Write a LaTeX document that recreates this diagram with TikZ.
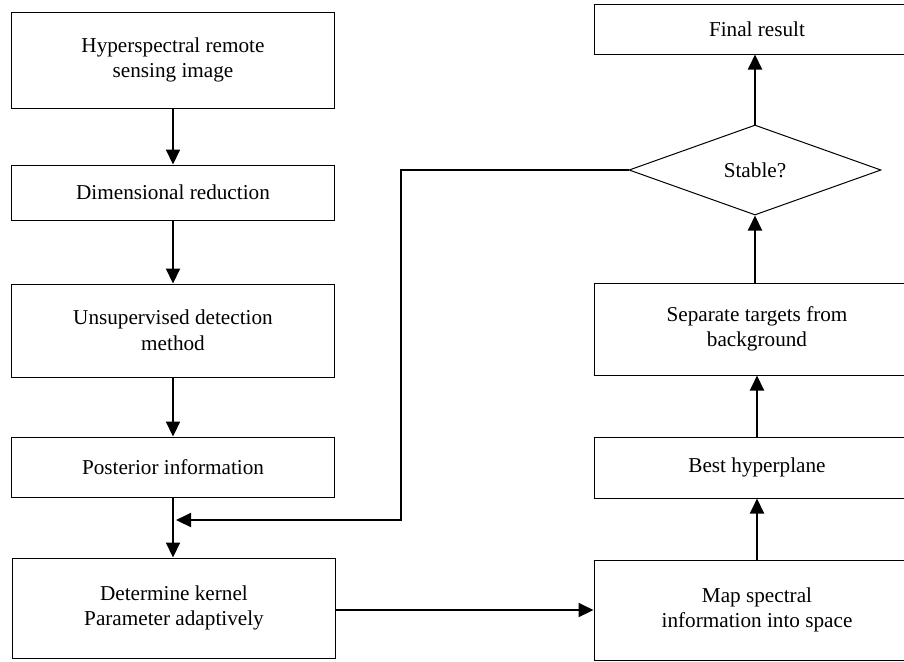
\documentclass[tikz,border=0pt]{standalone}
\usepackage{fontspec}
\setmainfont{Liberation Serif}
\usetikzlibrary{arrows.meta,shapes.geometric,positioning}

\begin{document}
\begin{tikzpicture} [
        x=0.5pt, y=-0.5pt,
        every node/.style={font=\fontsize{10.6}{12.8}\selectfont, align=center},
        process/.style={rectangle, draw=black, line width=0.5pt, minimum width=161.5pt, inner sep=0pt},
        decision/.style={diamond, draw=black, line width=0.5pt, minimum width=126pt, minimum height=45pt, inner sep=0pt},
        flow/.style={-{Triangle[length=7.5pt, width=7pt]}, line width=1pt}
    ]
    \clip (0,0) rectangle (904,661);

    % left column
    \node[process, minimum height=48pt]   (hsi)    at (173,60)    {Hyperspectral remote\\ sensing image};
    \node[process, minimum height=27.5pt] (dimred) at (173,192.5) {Dimensional reduction};
    \node[process, minimum height=46.5pt] (unsup)  at (173,330.5) {Unsupervised detection\\ method};
    \node[process, minimum height=30pt]   (post)   at (173,467)   {Posterior information};
    \node[process, minimum height=50pt]   (kernel) at (174,608)   {Determine kernel\\ Parameter adaptively};

    % right column
    \node[process, minimum width=163pt, minimum height=25pt]   (final)  at (757,29)    {Final result};
    \node[decision]                                             (stable) at (755,170)   {Stable?};
    \node[process, minimum width=163pt, minimum height=46pt]   (sep)    at (757,329)   {Separate targets from\\ background};
    \node[process, minimum width=163pt, minimum height=30.5pt] (best)   at (757,467.5) {Best hyperplane};
    \node[process, minimum width=163pt, minimum height=50pt]   (map)    at (757,610)   {Map spectral\\ information into space};

    \coordinate (turn) at (401,520);
    \coordinate (join) at (176,520);

    \draw[flow] (hsi)    -- (dimred);
    \draw[flow] (dimred) -- (unsup);
    \draw[flow] (unsup)  -- (post);
    \draw[flow] (post.south) -- (post.south |- kernel.north);
    \draw[flow] (kernel.east |- map.west) -- (map.west);
    \draw[flow] (map)    -- (best);
    \draw[flow] (best)   -- (sep);
    \draw[flow] (sep.north -| stable.south) -- (stable.south);
    \draw[flow] (stable.north) -- (stable.north |- final.south);
    \draw[flow] (stable.west) -| (turn) -- (join);
\end{tikzpicture}
\end{document}
